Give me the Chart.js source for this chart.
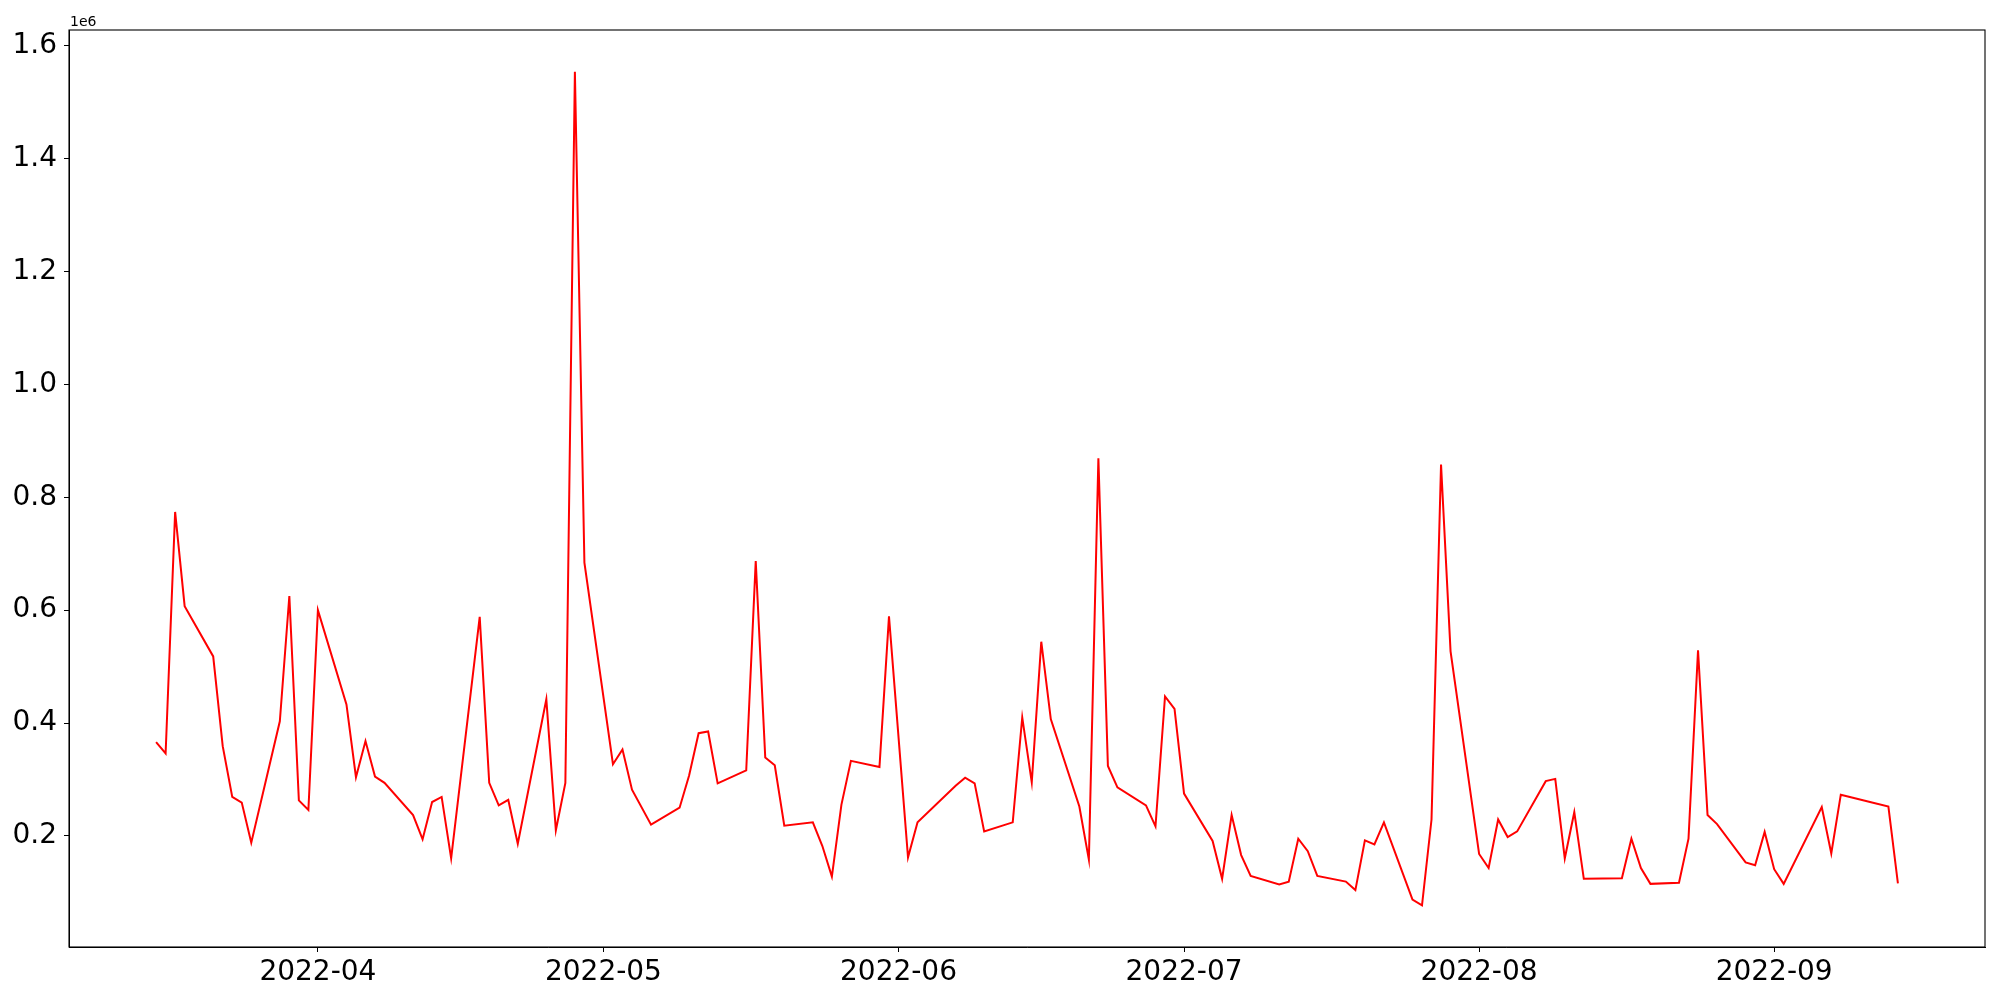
<!DOCTYPE html>
<html>
<head>
<meta charset="utf-8">
<script src="https://cdn.jsdelivr.net/npm/chart.js@4.4.0/dist/chart.umd.min.js"></script>
<style>
  html, body { margin: 0; padding: 0; background: #fff; }
  canvas { display: block; }
</style>
</head>
<body>
<canvas id="chart" width="2000" height="1000"></canvas>
<script>
// Data (values in units of 1e6)
const dates = [
  '2022-03-15','2022-03-16','2022-03-17','2022-03-18','2022-03-21','2022-03-22','2022-03-23','2022-03-24','2022-03-25',
  '2022-03-28','2022-03-29','2022-03-30','2022-03-31','2022-04-01',
  '2022-04-04','2022-04-05','2022-04-06','2022-04-07','2022-04-08',
  '2022-04-11','2022-04-12','2022-04-13','2022-04-14','2022-04-15',
  '2022-04-18','2022-04-19','2022-04-20','2022-04-21','2022-04-22',
  '2022-04-25','2022-04-26','2022-04-27','2022-04-28','2022-04-29',
  '2022-05-02','2022-05-03','2022-05-04','2022-05-06',
  '2022-05-09','2022-05-10','2022-05-11','2022-05-12','2022-05-13',
  '2022-05-16','2022-05-17','2022-05-18','2022-05-19','2022-05-20',
  '2022-05-23','2022-05-24','2022-05-25','2022-05-26','2022-05-27',
  '2022-05-30','2022-05-31','2022-06-02','2022-06-03',
  '2022-06-07','2022-06-08','2022-06-09','2022-06-10',
  '2022-06-13','2022-06-14','2022-06-15','2022-06-16','2022-06-17',
  '2022-06-20','2022-06-21','2022-06-22','2022-06-23','2022-06-24',
  '2022-06-27','2022-06-28','2022-06-29','2022-06-30','2022-07-01',
  '2022-07-04','2022-07-05','2022-07-06','2022-07-07','2022-07-08',
  '2022-07-11','2022-07-12','2022-07-13','2022-07-14','2022-07-15',
  '2022-07-18','2022-07-19','2022-07-20','2022-07-21','2022-07-22',
  '2022-07-25','2022-07-26','2022-07-27','2022-07-28','2022-07-29',
  '2022-08-01','2022-08-02','2022-08-03','2022-08-04','2022-08-05',
  '2022-08-08','2022-08-09','2022-08-10','2022-08-11','2022-08-12',
  '2022-08-16','2022-08-17','2022-08-18','2022-08-19',
  '2022-08-22','2022-08-23','2022-08-24','2022-08-25','2022-08-26',
  '2022-08-29','2022-08-30','2022-08-31','2022-09-01','2022-09-02',
  '2022-09-06','2022-09-07','2022-09-08','2022-09-13','2022-09-14'
];

const values = [
  0.366, 0.346, 0.774, 0.607, 0.518, 0.359, 0.269, 0.259, 0.188,
  0.403, 0.625, 0.263, 0.246, 0.600,
  0.433, 0.304, 0.368, 0.305, 0.294,
  0.237, 0.194, 0.260, 0.269, 0.160,
  0.588, 0.294, 0.254, 0.264, 0.186,
  0.442, 0.210, 0.294, 1.554, 0.684,
  0.327, 0.353, 0.282, 0.220,
  0.250, 0.307, 0.382, 0.385, 0.293,
  0.316, 0.687, 0.339, 0.325, 0.218,
  0.224, 0.182, 0.128, 0.255, 0.333,
  0.322, 0.589, 0.162, 0.224,
  0.289, 0.303, 0.293, 0.208,
  0.224, 0.410, 0.295, 0.544, 0.407,
  0.252, 0.158, 0.869, 0.324, 0.286,
  0.254, 0.217, 0.447, 0.425, 0.275,
  0.191, 0.124, 0.237, 0.166, 0.129,
  0.114, 0.119, 0.195, 0.173, 0.129,
  0.119, 0.104, 0.192, 0.185, 0.224,
  0.087, 0.077, 0.229, 0.858, 0.527,
  0.168, 0.143, 0.229, 0.198, 0.208,
  0.297, 0.301, 0.160, 0.242, 0.124,
  0.125, 0.195, 0.143, 0.115,
  0.117, 0.195, 0.529, 0.237, 0.221,
  0.153, 0.148, 0.207, 0.141, 0.115,
  0.251, 0.169, 0.273, 0.252, 0.116
].map(v => v * 1e6);

const xTickLabels = ['2022-04', '2022-05', '2022-06', '2022-07', '2022-08', '2022-09'];
const yTickValues = [0.2, 0.4, 0.6, 0.8, 1.0, 1.2, 1.4, 1.6];

// dates as day numbers for a linear x axis
function dayNum(s) {
  const p = s.split('-').map(Number);
  return Date.UTC(p[0], p[1] - 1, p[2] || 1) / 86400000;
}

const xs = dates.map(dayNum);
const points = xs.map((x, i) => ({ x: x, y: values[i] }));

// matplotlib-like 5% margins
const xMin0 = Math.min(...xs), xMax0 = Math.max(...xs);
const yMin0 = Math.min(...values), yMax0 = Math.max(...values);
const xPad = (xMax0 - xMin0) * 0.05;
const yPad = (yMax0 - yMin0) * 0.05;

const font = "'DejaVu Sans', sans-serif";

// frame around the plot area + the 1e6 offset label
const framePlugin = {
  id: 'frame',
  afterDraw(chart) {
    const { ctx, chartArea: a } = chart;
    ctx.save();
    ctx.strokeStyle = '#000';
    ctx.lineWidth = 1.1;
    ctx.strokeRect(a.left, a.top, a.right - a.left, a.bottom - a.top);
    ctx.fillStyle = '#000';
    ctx.font = '14px ' + font;
    ctx.textAlign = 'left';
    ctx.textBaseline = 'alphabetic';
    ctx.fillText('1e6', a.left + 1, a.top - 4);
    ctx.restore();
  }
};

new Chart(document.getElementById('chart'), {
  type: 'line',
  data: {
    datasets: [{
      data: points,
      borderColor: '#ff0000',
      borderWidth: 2,
      pointRadius: 0,
      tension: 0,
      fill: false
    }]
  },
  options: {
    responsive: false,
    animation: false,
    parsing: true,
    layout: { padding: { top: 30, right: 15, left: 0, bottom: 0 } },
    plugins: { legend: { display: false }, tooltip: { enabled: false } },
    scales: {
      x: {
        type: 'linear',
        min: xMin0 - xPad,
        max: xMax0 + xPad,
        afterBuildTicks: s => { s.ticks = xTickLabels.map(l => ({ value: dayNum(l) })); },
        afterFit: s => { s.height = 53; },
        grid: { drawOnChartArea: false, drawTicks: true, tickLength: 5, color: '#000', lineWidth: 1 },
        border: { display: true, color: '#000', width: 1 },
        ticks: {
          autoSkip: false,
          maxRotation: 0,
          padding: 4,
          color: '#000',
          font: { family: font, size: 28 },
          callback: (v) => {
            const i = xTickLabels.findIndex(l => dayNum(l) === v);
            return i >= 0 ? xTickLabels[i] : '';
          }
        }
      },
      y: {
        type: 'linear',
        min: yMin0 - yPad,
        max: yMax0 + yPad,
        afterBuildTicks: s => { s.ticks = yTickValues.map(v => ({ value: v * 1e6 })); },
        afterFit: s => { s.width = 69; },
        grid: { drawOnChartArea: false, drawTicks: true, tickLength: 5, color: '#000', lineWidth: 1 },
        border: { display: true, color: '#000', width: 1 },
        ticks: {
          autoSkip: false,
          padding: 7,
          color: '#000',
          font: { family: font, size: 28 },
          callback: (v) => (v / 1e6).toFixed(1)
        }
      }
    }
  },
  plugins: [framePlugin]
});
</script>
</body>
</html>
